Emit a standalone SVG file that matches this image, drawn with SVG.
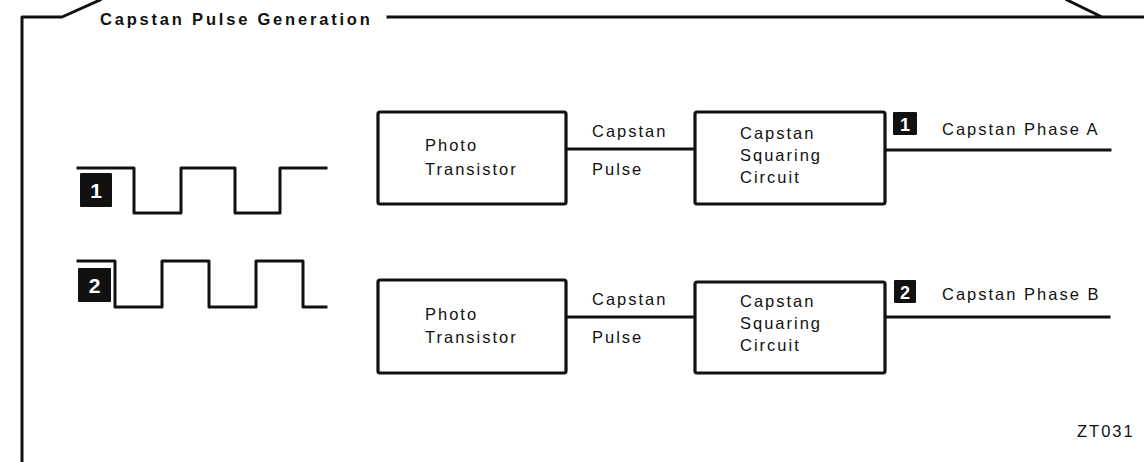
<svg xmlns="http://www.w3.org/2000/svg" width="1144" height="462" viewBox="0 0 1144 462">
<style>
.ln{fill:none;stroke:#111;stroke-width:3;stroke-linejoin:round;stroke-linecap:square}
.box{fill:#fff;stroke:#111;stroke-width:3.2}
.t{font-family:"Liberation Sans",Arial,sans-serif;font-size:16.5px;letter-spacing:2px;fill:#111}
.ttl{font-family:"Liberation Sans",Arial,sans-serif;font-size:16.5px;font-weight:bold;letter-spacing:2.8px;fill:#111}
.bd{fill:#111}
.bt{font-family:"Liberation Sans",Arial,sans-serif;font-weight:bold;fill:#fff;text-anchor:middle}
</style>
<rect width="1144" height="462" fill="#fff"/>
<g id="frame">
<path class="ln" d="M22,462 L22,17 L62,17 L100,0"/>
<path class="ln" d="M388,17 L1102,17 L1067,0 M1102,17 L1144,17"/>
<text class="ttl" x="100" y="25">Capstan Pulse Generation</text>
</g>
<g id="wave1">
<path class="ln" d="M78,168 L134,168 L134,213 L181,213 L181,168 L235,168 L235,213 L280,213 L280,168 L326,168"/>
<rect class="bd" x="80" y="173" width="32" height="34" rx="1"/>
<text class="bt" x="96" y="198" font-size="21">1</text>
</g>
<g id="wave2">
<path class="ln" d="M78,261 L115,261 L115,307 L162,307 L162,261 L209,261 L209,307 L256,307 L256,261 L303,261 L303,307 L326,307"/>
<rect class="bd" x="78" y="268" width="33" height="34" rx="1"/>
<text class="bt" x="94.5" y="293" font-size="21">2</text>
</g>
<g id="connectors">
<path class="ln" d="M566,149 L695,149"/>
<path class="ln" d="M885,150 L1110,150"/>
<path class="ln" d="M566,317 L695,317"/>
<path class="ln" d="M885,317 L1109,317"/>
<text class="t" x="592" y="137">Capstan</text>
<text class="t" x="592" y="175">Pulse</text>
<text class="t" x="592" y="305">Capstan</text>
<text class="t" x="592" y="343">Pulse</text>
</g>
<g id="photo1">
<rect class="box" x="378" y="112" width="188" height="92" rx="2"/>
<text class="t" x="425" y="151">Photo</text>
<text class="t" x="425" y="175">Transistor</text>
</g>
<g id="square1">
<rect class="box" x="695" y="112" width="190" height="92" rx="2"/>
<text class="t" x="740" y="139">Capstan</text>
<text class="t" x="740" y="161">Squaring</text>
<text class="t" x="740" y="183">Circuit</text>
</g>
<g id="out1">
<rect class="bd" x="893" y="112" width="24" height="23" rx="1"/>
<text class="bt" x="905" y="131" font-size="18">1</text>
<text class="t" x="942" y="135">Capstan Phase A</text>
</g>
<g id="photo2">
<rect class="box" x="378" y="280" width="188" height="93" rx="2"/>
<text class="t" x="425" y="320">Photo</text>
<text class="t" x="425" y="343">Transistor</text>
</g>
<g id="square2">
<rect class="box" x="695" y="282" width="190" height="91" rx="2"/>
<text class="t" x="740" y="307">Capstan</text>
<text class="t" x="740" y="329">Squaring</text>
<text class="t" x="740" y="351">Circuit</text>
</g>
<g id="out2">
<rect class="bd" x="894" y="280" width="22" height="23" rx="1"/>
<text class="bt" x="905" y="299" font-size="18">2</text>
<text class="t" x="942" y="300">Capstan Phase B</text>
</g>
<text class="t" x="1077" y="437">ZT031</text>
</svg>
